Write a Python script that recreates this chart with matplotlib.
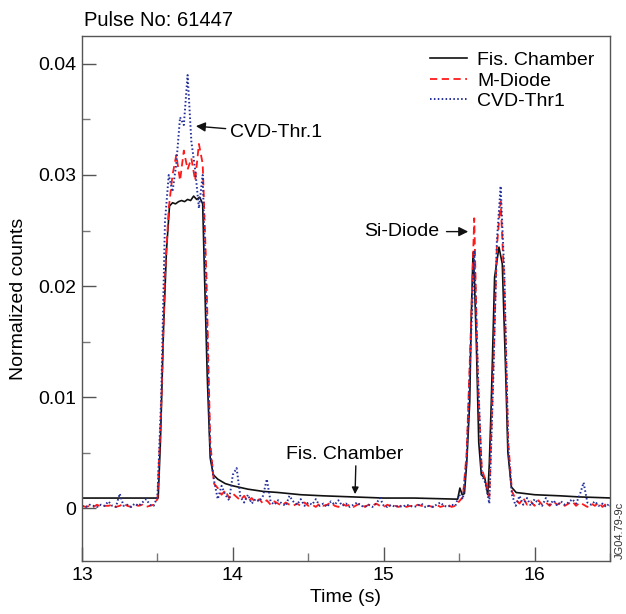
import numpy as np
import matplotlib.pyplot as plt
from matplotlib.ticker import MultipleLocator

plt.rcParams['font.family'] = ['Liberation Sans', 'DejaVu Sans']

# Fission chamber (smooth trace, own time base)
t_fis = [13.0, 13.505, 13.52, 13.54, 13.56, 13.58, 13.6, 13.62, 13.64, 13.66,
         13.68, 13.7, 13.72, 13.74, 13.76, 13.78, 13.8, 13.81, 13.83, 13.85,
         13.87, 13.9, 13.95, 14.0, 14.1, 14.2, 14.3, 14.45, 14.6, 14.8,
         15.0, 15.2, 15.49, 15.505, 15.52, 15.535, 15.55, 15.57, 15.58, 15.592,
         15.6, 15.613, 15.63, 15.647, 15.67, 15.69, 15.7, 15.713, 15.735, 15.764,
         15.786, 15.808, 15.823, 15.846, 15.878, 16.0, 16.17, 16.3, 16.52]
fis = [0.0009, 0.0009, 0.006, 0.016, 0.0232, 0.0272, 0.0275, 0.0274, 0.0276, 0.0277,
       0.0276, 0.0278, 0.0277, 0.0281, 0.0278, 0.0280, 0.0274, 0.022, 0.012, 0.0045,
       0.0030, 0.0026, 0.0022, 0.0020, 0.0017, 0.0015, 0.0014, 0.0012, 0.0011, 0.0010,
       0.0009, 0.0009, 0.0008, 0.0018, 0.0012, 0.0013, 0.004, 0.0095, 0.017, 0.023,
       0.021, 0.0154, 0.0059, 0.0030, 0.0027, 0.0012, 0.004, 0.0095, 0.0208, 0.0235,
       0.022, 0.0124, 0.005, 0.0019, 0.0014, 0.0012, 0.0011, 0.0010, 0.0009]

# M-Diode and CVD on a 0.025 s grid
t_grid = np.round(np.arange(13.0, 16.5001, 0.025), 3)
m_diode = [0.0002, 0.0001, 0.0002, 0.0001, 0.0003, 0.0001, 0.0002, 0.0002, 0.0003, 0.0001,
           0.0002, 0.0004, 0.0002, 0.0001, 0.0003, 0.0002, 0.0003, 0.0001, 0.0002, 0.0003,
           0.0008, 0.009, 0.021, 0.027, 0.030, 0.0318, 0.0295, 0.0322, 0.0305, 0.0315,
           0.0295, 0.0328, 0.0310, 0.021, 0.006, 0.0022, 0.0018, 0.0012, 0.0016, 0.0009,
           0.0013, 0.0010, 0.0007, 0.0011, 0.0006, 0.0009, 0.0005, 0.0008, 0.0004, 0.0007,
           0.0003, 0.0006, 0.0004, 0.0002, 0.0005, 0.0003, 0.0002, 0.0004, 0.0002, 0.0005,
           0.0002, 0.0003, 0.0001, 0.0004, 0.0002, 0.0003, 0.0005, 0.0002, 0.0001, 0.0004,
           0.0002, 0.0003, 0.0001, 0.0003, 0.0004, 0.0001, 0.0003, 0.0002, 0.0004, 0.0002,
           0.0001, 0.0003, 0.0001, 0.0002, 0.0001, 0.0003, 0.0001, 0.0002, 0.0001, 0.0003,
           0.0002, 0.0001, 0.0002, 0.0001, 0.0003, 0.0001, 0.0002, 0.0003, 0.0001, 0.0002,
           0.0006, 0.0010, 0.0050, 0.0150, 0.0261, 0.0110, 0.0035, 0.0025, 0.0010, 0.0120,
           0.0235, 0.0276, 0.0200, 0.0060, 0.0015, 0.0008, 0.0004, 0.0009, 0.0003, 0.0006,
           0.0002, 0.0007, 0.0003, 0.0005, 0.0002, 0.0006, 0.0003, 0.0005, 0.0002, 0.0004,
           0.0006, 0.0002, 0.0005, 0.0003, 0.0001, 0.0004, 0.0002, 0.0005, 0.0001, 0.0004,
           0.0002]
cvd = [0.0002, 0.0001, 0.0003, 0.0002, 0.0001, 0.0003, 0.0002, 0.0006, 0.0002, 0.0001,
       0.0013, 0.0002, 0.0003, 0.0001, 0.0004, 0.0002, 0.0005, 0.0008, 0.0003, 0.0002,
       0.0010, 0.010, 0.0258, 0.0300, 0.0285, 0.0310, 0.0352, 0.0345, 0.0390, 0.0330,
       0.0305, 0.0270, 0.0300, 0.0180, 0.0050, 0.0025, 0.0008, 0.0020, 0.0012, 0.0007,
       0.0030, 0.0036, 0.0010, 0.0005, 0.0012, 0.0004, 0.0008, 0.0006, 0.0011, 0.0026,
       0.0006, 0.0003, 0.0007, 0.0004, 0.0002, 0.0011, 0.0006, 0.0003, 0.0008, 0.0002,
       0.0005, 0.0003, 0.0008, 0.0002, 0.0004, 0.0001, 0.0006, 0.0003, 0.0007, 0.0002,
       0.0004, 0.0001, 0.0003, 0.0005, 0.0002, 0.0001, 0.0003, 0.0001, 0.0004, 0.0009,
       0.0002, 0.0001, 0.0003, 0.0001, 0.0002, 0.0001, 0.0003, 0.0002, 0.0001, 0.0002,
       0.0004, 0.0001, 0.0002, 0.0001, 0.0003, 0.0005, 0.0002, 0.0001, 0.0003, 0.0002,
       0.0012, 0.0008, 0.0045, 0.0140, 0.0232, 0.0120, 0.0030, 0.0022, 0.0004, 0.0110,
       0.0240, 0.0290, 0.0210, 0.0055, 0.0012, 0.0002, 0.0011, 0.0003, 0.0009, 0.0002,
       0.0008, 0.0004, 0.0002, 0.0009, 0.0003, 0.0007, 0.0002, 0.0006, 0.0003, 0.0005,
       0.0008, 0.0004, 0.0012, 0.0023, 0.0005, 0.0003, 0.0006, 0.0002, 0.0004, 0.0001,
       0.0005]

fig = plt.figure(figsize=(6.26, 6.14), dpi=100)
ax = fig.add_axes([82/626, 1-561/614, 528/626, 525/614])

ax.plot(t_fis, fis, color='#111111', lw=1.2, label='Fis. Chamber')
ax.plot(t_grid, m_diode, color='#ff1a1a', lw=1.3, ls=(0, (4, 2.5)), label='M-Diode')
ax.plot(t_grid, cvd, color='#24309a', lw=1.4, ls=(0, (0.8, 1.2)), label='CVD-Thr1')

ax.set_xlim(13, 16.5)
ax.set_ylim(-0.00477, 0.04252)
ax.set_xticks([13, 14, 15, 16])
ax.set_xticklabels(['13', '14', '15', '16'])
ax.set_yticks([0, 0.01, 0.02, 0.03, 0.04])
ax.set_yticklabels(['0', '0.01', '0.02', '0.03', '0.04'])
ax.xaxis.set_minor_locator(MultipleLocator(0.5))
ax.yaxis.set_minor_locator(MultipleLocator(0.005))
ax.tick_params(which='major', direction='in', length=10, width=1, color='#555555',
               labelsize=14, pad=4)
ax.tick_params(which='minor', direction='in', length=6, width=1, color='#777777')
for s in ax.spines.values():
    s.set_color('#555555')
    s.set_linewidth(1)

ax.set_xlabel('Time (s)', fontsize=14, labelpad=4)
ax.set_ylabel('Normalized counts', fontsize=14, labelpad=8)
fig.text(84/626, 1-20/614, 'Pulse No: 61447', fontsize=14.5, va='center', ha='left')

ax.legend(loc='upper right', bbox_to_anchor=(1.0, 1.0), frameon=False, fontsize=14,
          handlelength=1.9, handletextpad=0.5, labelspacing=0.15, borderaxespad=0.4)

ax.annotate('CVD-Thr.1', xy=(13.755, 0.0344), xytext=(13.98, 0.0338), fontsize=14,
            va='center', ha='left',
            arrowprops=dict(arrowstyle='-|>', color='#111111', lw=1, shrinkA=1, shrinkB=0))
ax.annotate('Si-Diode', xy=(15.56, 0.0249), xytext=(15.37, 0.0249), fontsize=14,
            va='center', ha='right',
            arrowprops=dict(arrowstyle='-|>', color='#111111', lw=1, shrinkA=3, shrinkB=0))
ax.annotate('', xy=(14.81, 0.00125), xytext=(14.815, 0.0038),
            arrowprops=dict(arrowstyle='-|>', color='#111111', lw=1, shrinkA=0, shrinkB=0))
ax.text(14.74, 0.0048, 'Fis. Chamber', fontsize=14, ha='center', va='center')

fig.text(620/626, 1-530/614, 'JG04.79-9c', fontsize=8, rotation=90,
         ha='center', va='center', color='#333333')

fig.savefig('out.png', dpi=100)
